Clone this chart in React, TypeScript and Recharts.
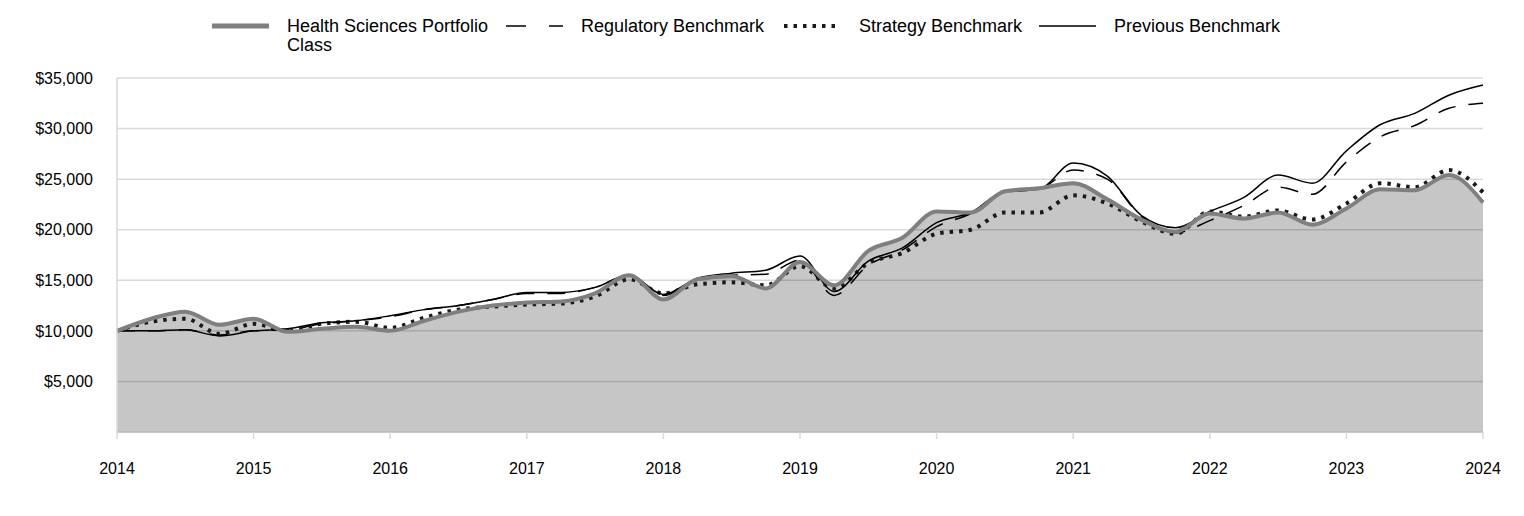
import React from "react";
import { ComposedChart, Area, Line, XAxis, YAxis, CartesianGrid } from "recharts";

const periods = [
  "2014Q1","2014Q2","2014Q3","2014Q4","2015Q1","2015Q2","2015Q3","2015Q4",
  "2016Q1","2016Q2","2016Q3","2016Q4","2017Q1","2017Q2","2017Q3","2017Q4",
  "2018Q1","2018Q2","2018Q3","2018Q4","2019Q1","2019Q2","2019Q3","2019Q4",
  "2020Q1","2020Q2","2020Q3","2020Q4","2021Q1","2021Q2","2021Q3","2021Q4",
  "2022Q1","2022Q2","2022Q3","2022Q4","2023Q1","2023Q2","2023Q3","2023Q4",
  "2024Q1",
];

const portfolio = [10000,11200,11900,10600,11200,9900,10200,10400,10000,11000,11900,12500,12800,12900,13700,15500,13100,15100,15400,14200,16800,14500,17900,19200,21800,21700,23800,24100,24600,23000,21000,19800,21600,21100,21700,20500,22100,24000,23900,25400,22700];
const regulatory = [10000,10000,10100,9600,10000,10100,10700,11000,11400,12100,12500,13100,13700,13700,14300,15500,13500,15100,15500,15600,17000,13500,16500,18000,20300,21600,23700,24000,25900,25000,21300,19700,20900,22400,24200,23500,26700,29200,30300,32000,32500];
const strategy = [10000,10900,11200,9700,10700,10000,10700,10900,10300,11300,12100,12400,12600,12700,13400,15100,13700,14600,14800,14500,16400,14200,16700,17700,19600,20000,21700,21700,23400,22600,20800,19600,21800,21300,21900,21000,22600,24600,24200,25900,23700];
const previous = [10000,10000,10100,9500,10000,10200,10800,11000,11500,12100,12500,13100,13800,13800,14300,15500,13600,15200,15700,16000,17400,13900,16900,18200,20700,21700,23800,24000,26600,25300,21400,20200,21800,23200,25400,24600,27800,30400,31500,33300,34300];

const yearLabels = ["2014","2015","2016","2017","2018","2019","2020","2021","2022","2023","2024"];
const yTicks = [5000,10000,15000,20000,25000,30000,35000];

const data = periods.map((p, i) => ({
  idx: i,
  period: p,
  portfolio: portfolio[i],
  regulatory: regulatory[i],
  strategy: strategy[i],
  previous: previous[i],
}));
const xTicks = yearLabels.map((_, i) => i * 4);

const FONT = "'Liberation Sans', Arial, sans-serif";

const legendItems = [
  { label: "Health Sciences Portfolio Class", stroke: "#7f7f7f", width: 5, dash: undefined as string | undefined, textWidth: 210 },
  { label: "Regulatory Benchmark", stroke: "#000", width: 1.5, dash: "20 23", textWidth: 188 },
  { label: "Strategy Benchmark", stroke: "#1a1a1a", width: 4, dash: "3.5 6", textWidth: 165 },
  { label: "Previous Benchmark", stroke: "#000", width: 1.5, dash: undefined, textWidth: 180 },
];

function LegendBox() {
  return (
    <div style={{ position: "absolute", left: 204, top: 9, display: "flex", alignItems: "flex-start", fontFamily: FONT, fontSize: 18, lineHeight: "19px", color: "#000" }}>
      {legendItems.map((it, k) => (
        <div key={k} style={{ display: "flex", alignItems: "flex-start", marginRight: k === 0 ? 9 : 15 }}>
          <svg width={57} height={19} style={{ display: "block", marginRight: 18 }}>
            <line x1={0} x2={57} y1={9} y2={9} stroke={it.stroke} strokeWidth={it.width} strokeDasharray={it.dash} />
          </svg>
          <div style={{ width: it.textWidth, whiteSpace: "normal" }}>{it.label}</div>
        </div>
      ))}
    </div>
  );
}

export default function App() {
  return (
    <div style={{ position: "relative", width: 1508, height: 500, fontFamily: FONT }}>
      <LegendBox />
      <ComposedChart width={1508} height={500} data={data} margin={{ top: 70, right: 33, bottom: 36, left: 0 }}>
        <CartesianGrid vertical={false} stroke="#d9d9d9" strokeWidth={1.5} />
        <XAxis
          type="number"
          dataKey="idx"
          domain={[0, 40]}
          ticks={xTicks}
          interval={0}
          tickFormatter={(v: number) => yearLabels[Math.round(v / 4)]}
          tick={{ fill: "#000", fontSize: 16, fontFamily: FONT }}
          axisLine={{ stroke: "#bfbfbf", strokeWidth: 1.5 }}
          tickLine={{ stroke: "#d9d9d9", strokeWidth: 1.5 }}
          tickSize={7}
          tickMargin={24}
          height={40}
        />
        <YAxis
          domain={[0, 35000]}
          ticks={yTicks}
          interval={0}
          tickFormatter={(v: number) => "$" + v.toLocaleString("en-US")}
          tick={{ fill: "#000", fontSize: 16, fontFamily: FONT }}
          axisLine={{ stroke: "#d9d9d9", strokeWidth: 1.5 }}
          tickLine={false}
          tickSize={0}
          tickMargin={24}
          width={109}
        />
        <Area type="monotone" dataKey="portfolio" fill="#000" fillOpacity={0.225} stroke="none" isAnimationActive={false} />
        <Line type="monotone" dataKey="regulatory" stroke="#000" strokeWidth={1.5} strokeDasharray="18 13" dot={false} isAnimationActive={false} />
        <Line type="monotone" dataKey="strategy" stroke="#1a1a1a" strokeWidth={4} strokeDasharray="3.5 6" dot={false} isAnimationActive={false} />
        <Line type="monotone" dataKey="previous" stroke="#000" strokeWidth={1.5} dot={false} isAnimationActive={false} />
        <Line type="monotone" dataKey="portfolio" stroke="#7f7f7f" strokeWidth={4} dot={false} isAnimationActive={false} />
      </ComposedChart>
    </div>
  );
}
